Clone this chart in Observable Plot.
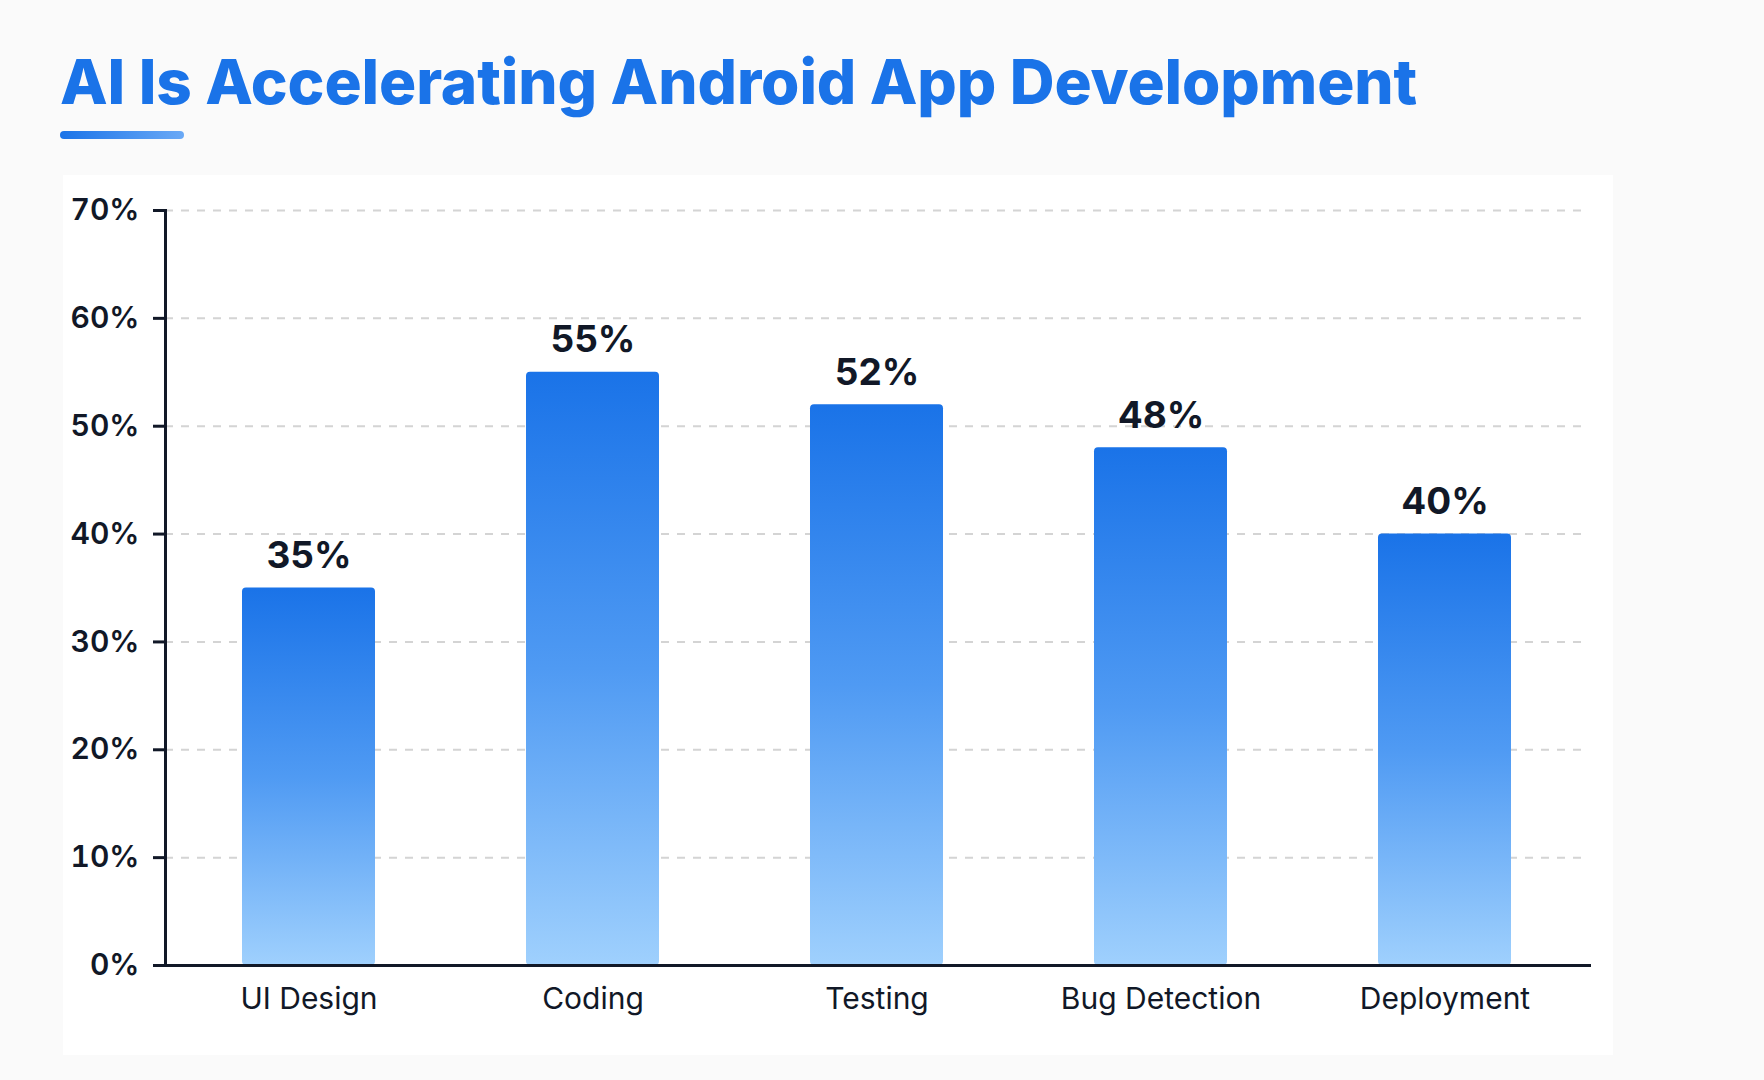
<!DOCTYPE html>
<html>
<head>
<meta charset="utf-8">
<script src="https://cdn.jsdelivr.net/npm/d3@7"></script>
<script src="https://cdn.jsdelivr.net/npm/@observablehq/plot@0.6"></script>
<style>
  html, body { margin: 0; padding: 0; background: #fafafa; width: 1764px; height: 1080px; overflow: hidden; }
  #card { position: absolute; left: 63px; top: 175px; width: 1550px; height: 880px; background: #ffffff; z-index: 0; }
  #header { position: relative; height: 175px; z-index: 1; }
  #title { position: absolute; left: 60px; top: 51px; margin: 0; font-family: Inter, sans-serif; font-weight: 800; font-size: 62px; color: #1a73e8; letter-spacing: -0.1px; white-space: nowrap; line-height: 1; }
  #underline { position: absolute; left: 60px; top: 131px; width: 124px; height: 8px; border-radius: 4px; background: linear-gradient(90deg, #1a73e8, #6aa9f6); }
  #chart { position: relative; z-index: 1; }
  #chart svg { background: transparent; }
</style>
</head>
<body>
<div id="card"></div>
<div id="header">
  <h1 id="title">AI Is Accelerating Android App Development</h1>
  <div id="underline"></div>
</div>
<div id="chart"></div>
<script>
const categories = ["UI Design", "Coding", "Testing", "Bug Detection", "Deployment"];
const values = [0.35, 0.55, 0.52, 0.48, 0.40];
const yTicks = [0, 0.1, 0.2, 0.3, 0.4, 0.5, 0.6, 0.7];

const data = categories.map((c, i) => ({category: c, value: values[i]}));
const pct = d3.format(".0%");

const chart = Plot.plot({
  width: 1764,
  height: 905,
  marginTop: 35,
  marginBottom: 115,
  marginLeft: 165,
  marginRight: 175,
  style: {background: "transparent", color: "#111827"},
  x: {domain: categories, paddingInner: 0.53, paddingOuter: 0.265, label: null},
  y: {domain: [0, 0.7], label: null},
  marks: [
    Plot.gridY(yTicks, {stroke: "#d4d4d4", strokeOpacity: 1, strokeWidth: 2, strokeDasharray: "8,8"}),
    Plot.barY(data, {x: "category", y: "value", fill: "url(#barGrad)", rx: 4}),
    Plot.text(data, {x: "category", y: "value", text: d => pct(d.value), dy: -20, lineAnchor: "bottom", fontSize: 37, fontWeight: 700, fill: "#111827", fontFamily: "Inter, sans-serif"}),
    Plot.axisY({ticks: yTicks, tickFormat: pct, tickSize: 12, tickPadding: 14, fontSize: 30, fontWeight: 600, fontFamily: "Inter, sans-serif", stroke: "#111827", strokeWidth: 3, label: null}),
    Plot.axisX({tickSize: 0, tickPadding: 22, fontSize: 30, fontFamily: "Inter, sans-serif", label: null}),
    Plot.frame({anchor: "left", stroke: "#111827", strokeWidth: 3}),
    Plot.frame({anchor: "bottom", stroke: "#111827", strokeWidth: 3})
  ]
});

const svg = d3.select(chart);
const defs = svg.insert("defs", ":first-child");
const g = defs.append("linearGradient").attr("id", "barGrad").attr("x1", 0).attr("y1", 0).attr("x2", 0).attr("y2", 1);
g.append("stop").attr("offset", "0%").attr("stop-color", "#1a73e8");
g.append("stop").attr("offset", "50%").attr("stop-color", "#4f9af3");
g.append("stop").attr("offset", "100%").attr("stop-color", "#9fd0fd");

document.getElementById("chart").appendChild(chart);
</script>
</body>
</html>
